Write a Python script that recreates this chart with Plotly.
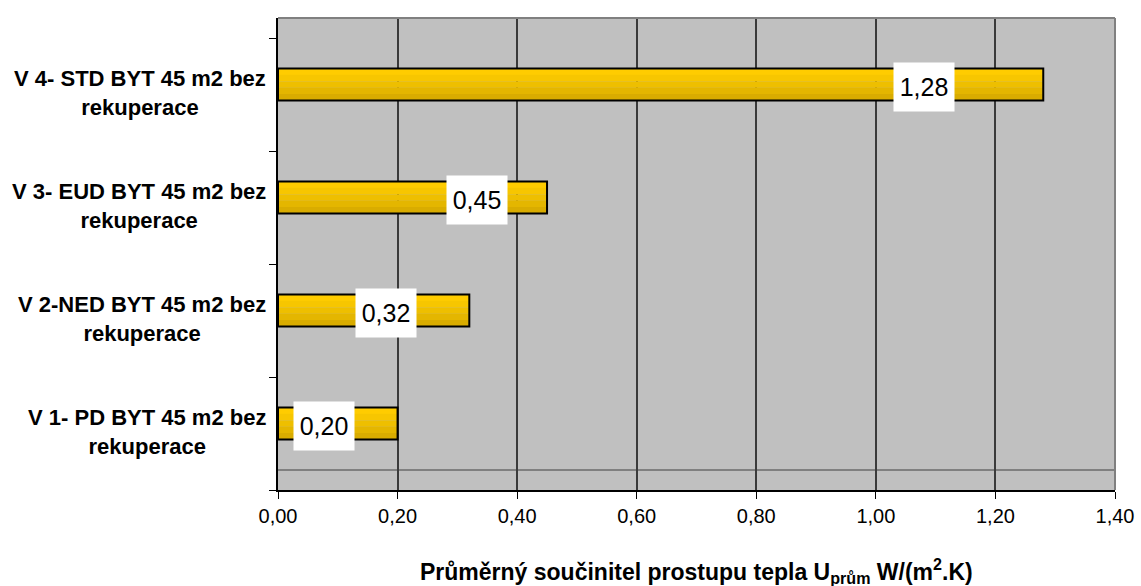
import plotly.graph_objects as go

categories = [
    "V 1- PD BYT 45 m2 bez<br>rekuperace",
    "V 2-NED BYT 45 m2 bez<br>rekuperace",
    "V 3- EUD BYT 45 m2 bez<br>rekuperace",
    "V 4- STD BYT 45 m2 bez<br>rekuperace",
]
values = [0.20, 0.32, 0.45, 1.28]
value_labels = ["0,20", "0,32", "0,45", "1,28"]
label_x = [0.077, 0.181, 0.333, 1.080]
x_ticks = [0.0, 0.2, 0.4, 0.6, 0.8, 1.0, 1.2, 1.4]

BAR_W = 0.283
BAR_OFF = -0.053
stripe_colors = ["#FFCC00", "#F7C600", "#EEBF00", "#E4B600", "#D9AC00"]

fig = go.Figure()
n = len(stripe_colors)
for i, c in enumerate(stripe_colors):
    w = BAR_W / n
    off = BAR_OFF + BAR_W - (i + 1) * w
    fig.add_trace(go.Bar(
        y=categories, x=values, orientation="h",
        width=w * 1.02, offset=off,
        marker=dict(color=c, line=dict(width=0)),
        hoverinfo="skip", showlegend=False,
    ))
fig.add_trace(go.Bar(
    y=categories, x=values, orientation="h",
    width=BAR_W, offset=BAR_OFF,
    marker=dict(color="rgba(0,0,0,0)", line=dict(color="black", width=2)),
    showlegend=False,
))

for cat, lx, lab in zip(categories, label_x, value_labels):
    fig.add_annotation(
        x=lx, y=cat, xref="x", yref="y", text=lab, showarrow=False,
        font=dict(family="Arial, Liberation Sans", size=25, color="black"),
        bgcolor="white", width=58, height=46, yshift=8,
        xanchor="center", yanchor="middle",
    )
    fig.add_annotation(
        x=0, y=cat, xref="paper", yref="y", text="<b>" + cat + "</b>",
        showarrow=False, align="center", xanchor="right", yanchor="middle",
        xshift=-10, yshift=2,
        font=dict(family="Arial, Liberation Sans", size=22, color="black"),
    )

fig.add_annotation(
    x=0.5, y=-0.172, xref="paper", yref="paper", showarrow=False,
    text="<b>Průměrný součinitel prostupu tepla U<sub>prům</sub> W/(m<sup>2</sup>.K)</b>",
    font=dict(family="Arial, Liberation Sans", size=23, color="black"),
    xanchor="center", yanchor="middle",
)

fig.add_shape(type="line", xref="x domain", yref="y domain", x0=0, x1=1, y0=1, y1=1,
              line=dict(color="#808080", width=2))
fig.add_shape(type="line", xref="x domain", yref="y domain", x0=1, x1=1, y0=0, y1=1,
              line=dict(color="#808080", width=2))
fig.add_shape(type="line", xref="x domain", yref="y domain", x0=0, x1=1, y0=20 / 472, y1=20 / 472,
              line=dict(color="#808080", width=2), layer="below")

fig.update_layout(
    width=1141, height=586,
    margin=dict(l=278, r=26, t=18, b=96),
    paper_bgcolor="white", plot_bgcolor="#C0C0C0",
    barmode="overlay", separators=", ",
    font=dict(family="Arial, Liberation Sans", color="black"),
    xaxis=dict(
        range=[0, 1.4], tickvals=x_ticks, tickformat=".2f",
        showgrid=True, gridcolor="#3a3a3a", gridwidth=1.5,
        showline=True, linecolor="black", linewidth=1.5,
        ticks="outside", ticklen=7, tickcolor="black", tickwidth=1,
        tickfont=dict(size=20, family="Arial, Liberation Sans"),
        zeroline=False, fixedrange=True, automargin=False,
    ),
    yaxis=dict(
        type="category", categoryorder="array", categoryarray=categories,
        range=[-0.5, 3.677], tickson="boundaries",
        showticklabels=False, showgrid=False,
        showline=True, linecolor="black", linewidth=1.5,
        ticks="outside", ticklen=7, tickcolor="black", tickwidth=1,
        zeroline=False, fixedrange=True, automargin=False,
    ),
)

fig.write_html("out.html", config={"displayModeBar": False},
               post_script="document.body.style.margin='0';document.body.style.overflow='hidden';")
